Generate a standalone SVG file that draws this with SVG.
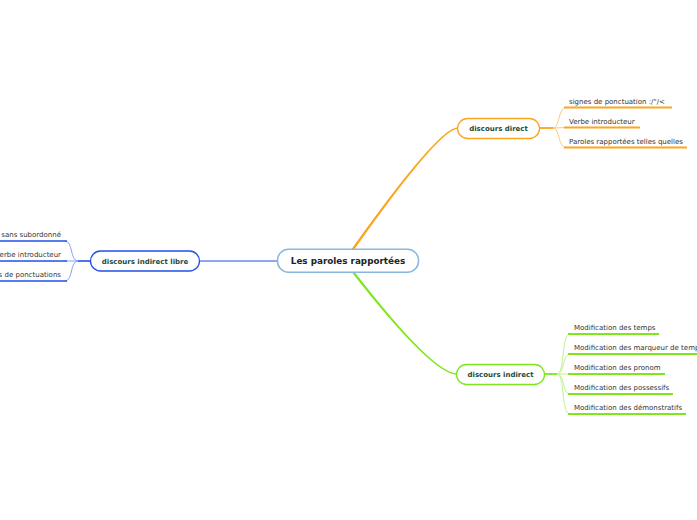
<svg xmlns="http://www.w3.org/2000/svg" width="697" height="520" viewBox="0 0 697 520">
<style>
.node{font-family:"DejaVu Sans",Verdana,sans-serif;font-weight:bold;font-size:7px;fill:#1c4a3c;text-anchor:middle}
.leaf{font-family:"DejaVu Sans",Verdana,sans-serif;font-size:7px;fill:#333}
.lo{stroke:#fba520;stroke-width:1.8;fill:none}
.lot{stroke:#fccb7e;stroke-width:1;fill:none}
.lg{stroke:#7fe61c;stroke-width:1.8;fill:none}
.lgt{stroke:#bff28c;stroke-width:1;fill:none}
.lb{stroke:#1f50e6;stroke-width:1.6;fill:none}
.lbt{stroke:#86a2f0;stroke-width:1;fill:none}
</style>
<rect width="697" height="520" fill="#fff"/>
<g id="connectors">
<path d="M351.6,249 Q438.5,127.3 458,127.3 L458,128.7 Q439.5,128.7 354.6,249 Z" fill="#fba520"/>
<path d="M351.6,272 Q432,374.7 457,374.7 L457,373.3 Q433,373.3 354.6,272 Z" fill="#7fe61c"/>
<path d="M199,261 L278,261" stroke="#1f50e6" stroke-width="1.2" fill="none"/>
<path class="lo" d="M540,128 L553,128"/>
<path class="lot" d="M553,128 C560,128 558,107.5 566,107.5"/>
<path class="lot" d="M553,128 L566,127.5"/>
<path class="lot" d="M553,128 C560,128 558,147.5 566,147.5"/>
<path class="lo" d="M564,107.5 L672,107.5"/>
<path class="lo" d="M564,127.5 L640,127.5"/>
<path class="lo" d="M564,147.5 L687,147.5"/>
<path class="lg" d="M545,374 L557,374"/>
<path class="lgt" d="M557,374 C565,374 561,334 570,334"/>
<path class="lgt" d="M557,374 C565,374 562,354 570,354"/>
<path class="lgt" d="M557,374 L570,374"/>
<path class="lgt" d="M557,374 C565,374 562,394 570,394"/>
<path class="lgt" d="M557,374 C565,374 561,414 570,414"/>
<path class="lg" d="M568,334 L659,334"/>
<path class="lg" d="M568,354 L700,354"/>
<path class="lg" d="M568,374 L665,374"/>
<path class="lg" d="M568,394 L673,394"/>
<path class="lg" d="M568,414 L686,414"/>
<path class="lb" d="M90,261 L78,261"/>
<path class="lbt" d="M78,261 C70,261 73,241 65,241"/>
<path class="lbt" d="M78,261 L65,261"/>
<path class="lbt" d="M78,261 C70,261 73,281 65,281"/>
<path class="lb" d="M0,241 L67,241"/>
<path class="lb" d="M0,261 L67,261"/>
<path class="lb" d="M0,281 L67,281"/>
</g>
<g id="central">
<rect x="277.5" y="249.2" width="141" height="23" rx="11" fill="#fff" stroke="#86b8e2" stroke-width="1.5"/>
<text x="348" y="264.3" font-family="'DejaVu Sans',Verdana,sans-serif" font-weight="bold" font-size="8.8" fill="#222" text-anchor="middle">Les paroles rapportées</text>
</g>
<g id="discours-direct">
<rect x="457.5" y="118.5" width="82" height="20" rx="10" fill="#fff" stroke="#fba520" stroke-width="1.3"/>
<text class="node" x="498.5" y="131">discours direct</text>
</g>
<g id="discours-indirect">
<rect x="456.5" y="364.5" width="88" height="20" rx="10" fill="#fff" stroke="#7fe61c" stroke-width="1.3"/>
<text class="node" x="500.5" y="377">discours indirect</text>
</g>
<g id="discours-indirect-libre">
<rect x="90.5" y="251" width="109" height="20" rx="10" fill="#fff" stroke="#1f50e6" stroke-width="1.3"/>
<text class="node" x="145" y="263.5">discours indirect libre</text>
</g>
<g id="leaves-direct">
<text class="leaf" x="569" y="104">signes de ponctuation :/"/&lt;</text>
<text class="leaf" x="569" y="124">Verbe introducteur</text>
<text class="leaf" x="569" y="144">Paroles rapportées telles quelles</text>
</g>
<g id="leaves-indirect">
<text class="leaf" x="574" y="330">Modification des temps</text>
<text class="leaf" x="574" y="350">Modification des marqueur de temps</text>
<text class="leaf" x="574" y="370">Modification des pronom</text>
<text class="leaf" x="574" y="390">Modification des possessifs</text>
<text class="leaf" x="574" y="410">Modification des démonstratifs</text>
</g>
<g id="leaves-libre">
<text class="leaf" x="61" y="237" text-anchor="end">sans subordonné</text>
<text class="leaf" x="61" y="257" text-anchor="end">Verbe introducteur</text>
<text class="leaf" x="61" y="277" text-anchor="end">Signes de ponctuations</text>
</g>
</svg>
